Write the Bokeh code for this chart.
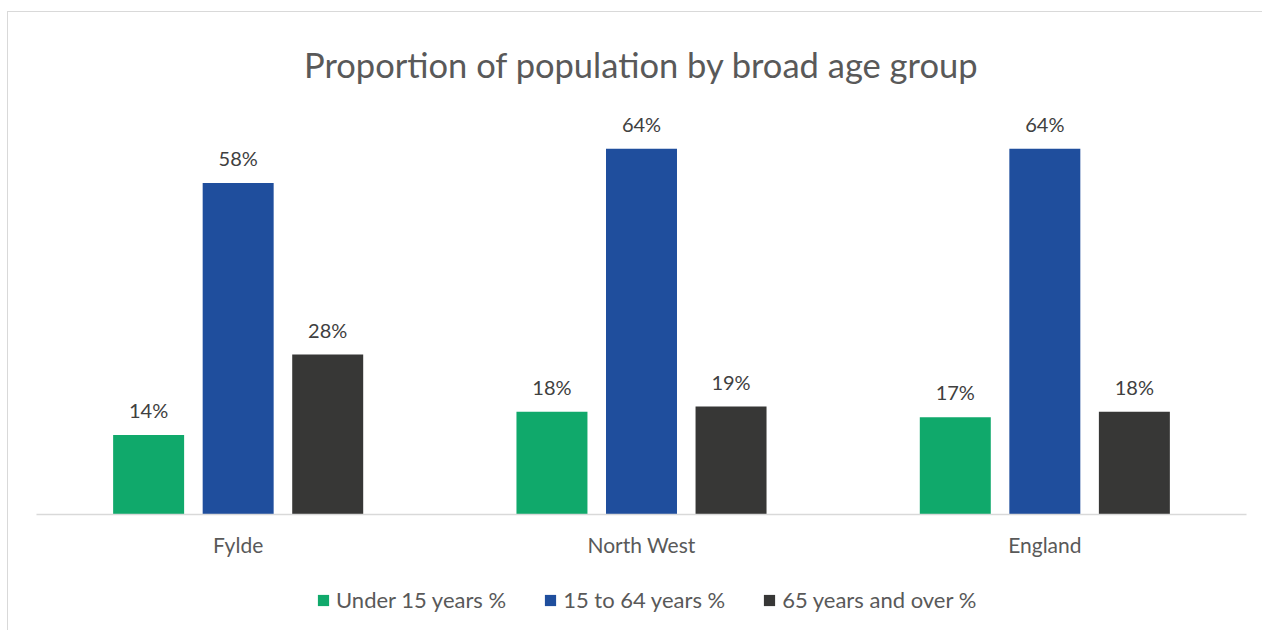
from bokeh.plotting import figure
from bokeh.layouts import column
from bokeh.models import FactorRange, Range1d, ColumnDataSource, LabelSet, Legend, LegendItem
from bokeh.core.properties import value
from bokeh.transform import dodge
from bokeh.embed import file_html
from bokeh.resources import INLINE

areas = ["Fylde", "North West", "England"]
series = ["Under 15 years %", "15 to 64 years %", "65 years and over %"]
under15 = [13.9, 18.0, 17.0]
age15_64 = [58.0, 64.0, 64.0]
over65 = [28.0, 18.9, 18.0]
labels_under15 = ["14%", "18%", "17%"]
labels_15_64 = ["58%", "64%", "64%"]
labels_over65 = ["28%", "19%", "18%"]
colors = ["#10A96B", "#1F4E9D", "#373736"]

FONT = "Lato"

p = figure(width=1254, height=562, x_range=FactorRange(*areas, range_padding=0),
           y_range=Range1d(0, 70), output_backend="svg", toolbar_location=None,
           y_axis_location=None, min_border_left=28, min_border_right=16,
           min_border_top=98, min_border_bottom=60)
p.outline_line_color = None
p.xgrid.visible = False
p.ygrid.visible = False

p.title.text = "Proportion of population by broad age group"
p.title.align = "center"
p.title.text_font = FONT
p.title.text_font_size = "34.5px"
p.title.text_font_style = "normal"
p.title.text_color = "#595959"
p.title.standoff = 59

src = ColumnDataSource(dict(area=areas, u=under15, m=age15_64, o=over65,
                            lu=labels_under15, lm=labels_15_64, lo=labels_over65))

offsets = [-0.222, 0.0, 0.222]
fields = ["u", "m", "o"]
lfields = ["lu", "lm", "lo"]
for off, f, lf, c in zip(offsets, fields, lfields, colors):
    p.vbar(x=dodge("area", off, range=p.x_range), top=f, width=0.176, source=src,
           fill_color=c, line_color=None)
    lab = LabelSet(x=dodge("area", off, range=p.x_range), y=f, text=lf, source=src,
                   text_align="center", text_baseline="alphabetic", y_offset=17,
                   text_font=value(FONT), text_font_size=value("20px"),
                   text_color=value("#404040"))
    p.add_layout(lab)

ax = p.xaxis[0]
ax.axis_line_color = "#d9d9d9"
ax.axis_line_width = 1.5
ax.major_tick_line_color = None
ax.minor_tick_line_color = None
ax.major_label_text_font = FONT
ax.major_label_text_font_size = "21px"
ax.major_label_text_color = "#595959"
ax.major_label_standoff = 11

# legend strip below the chart (swatch renderers sit outside its visible range)
pl = figure(width=1254, height=56, x_range=Range1d(0, 1), y_range=Range1d(0, 1),
            output_backend="svg", toolbar_location=None, x_axis_location=None,
            y_axis_location=None, min_border=0)
pl.outline_line_color = None
pl.xgrid.visible = False
pl.ygrid.visible = False
items = []
for c, name in zip(colors, series):
    r = pl.vbar(x=[-5], top=[0], width=0.1, fill_color=c, line_color=None)
    items.append(LegendItem(label=name, renderers=[r]))
legend = Legend(items=items, orientation="horizontal", location=(280, 17),
                glyph_width=14, glyph_height=14, label_standoff=6, spacing=37,
                label_text_font=FONT, label_text_font_size="22px",
                label_text_color="#595959", border_line_color=None,
                background_fill_alpha=0, margin=0, padding=4)
pl.add_layout(legend)

layout = column(p, pl, spacing=0,
                styles={"margin-left": "7px", "margin-top": "11px",
                        "border-left": "1.5px solid #d9d9d9",
                        "border-top": "1.5px solid #d9d9d9"})

open("out.html", "w").write(file_html(layout, INLINE))
